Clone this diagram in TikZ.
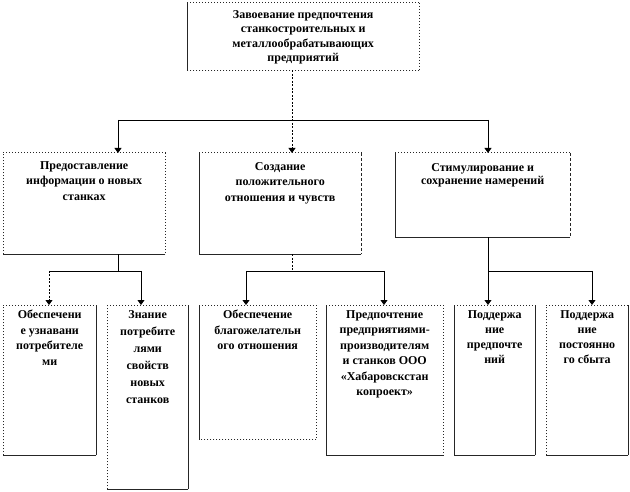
\documentclass[tikz,border=0pt]{standalone}
\usepackage{fontspec}
\setmainfont{Liberation Serif}
\usetikzlibrary{arrows.meta}
\newcommand{\boxtext}[5]{\parbox[c][#2pt][t]{#1pt}{\centering\fontsize{12}{#3}\selectfont\bfseries\vspace*{#4pt}#5\par}}
\newcommand{\boxsides}[5]{%
  \draw[#2] (#1.north west) -- (#1.north east);
  \draw[#3] (#1.north east) -- (#1.south east);
  \draw[#4] (#1.south east) -- (#1.south west);
  \draw[#5] (#1.south west) -- (#1.north west);}
\begin{document}
\begin{tikzpicture}[x=1pt,y=-1pt,
  boxnode/.style={inner sep=0pt,anchor=north west,draw=none},
  sd/.style={line width=1pt,black!85,dotted},
  ss/.style={line width=0.8pt,black!85},
  sdash/.style={line width=0.8pt,black!85,dash pattern=on 3pt off 2pt},
  conn/.style={line width=0.8pt,black},
  dashconn/.style={line width=0.8pt,black,dash pattern=on 2pt off 1.5pt},
  arr/.style={-{Triangle[length=5pt,width=7pt]}}]
\useasboundingbox (0,0) rectangle (630,492);
% top
\node[boxnode] (T) at (187,3) {\boxtext{232}{67}{14.2}{7.5}{Завоевание предпочтения\\станкостроительных и\\металлообрабатывающих\\предприятий}};
% level 1
\node[boxnode] (A) at (3,153) {\boxtext{162}{101}{15.5}{8}{Предоставление\\информации о новых\\станках}};
\node[boxnode] (B) at (199,153) {\boxtext{162}{101}{15.5}{9}{Создание\\положительного\\отношения и чувств}};
\node[boxnode] (C) at (395,153) {\boxtext{175}{84}{13}{10}{Стимулирование и\\сохранение намерений}};
% level 2
\node[boxnode] (a1) at (3,305) {\boxtext{93}{150}{15.5}{5}{Обеспечени\\е узнавани\\потребителе\\ми}};
\node[boxnode] (a2) at (107,305) {\boxtext{81}{184}{17}{5}{Знание\\потребите\\лями\\свойств\\новых\\станков}};
\node[boxnode] (b1) at (199,305) {\boxtext{117}{134}{15.5}{5}{Обеспечение\\благожелательн\\ого отношения}};
\node[boxnode] (b2) at (326,305) {\boxtext{117}{150}{15.5}{5}{Предпочтение\\предприятиями-\\производителям\\и станков ООО\\«Хабаровскстан\\копроект»}};
\node[boxnode] (c1) at (454,305) {\boxtext{81}{150}{15}{5}{Поддержа\\ние\\предпочте\\ний}};
\node[boxnode] (c2) at (546,305) {\boxtext{82}{150}{15}{5}{Поддержа\\ние\\постоянно\\го сбыта}};
% borders
\boxsides{T}{sd}{sd}{sd}{ss}
\boxsides{A}{sd}{sd}{ss}{sd}
\boxsides{B}{sd}{sdash}{ss}{ss}
\boxsides{C}{sd}{sdash}{ss}{ss}
\boxsides{a1}{sd}{ss}{ss}{sd}
\boxsides{a2}{sd}{ss}{ss}{sd}
\boxsides{b1}{sd}{sd}{sd}{ss}
\boxsides{b2}{sd}{sd}{ss}{ss}
\boxsides{c1}{sd}{ss}{ss}{ss}
\boxsides{c2}{sd}{ss}{ss}{sd}
% coordinates
\coordinate (xB) at (292,0);
\coordinate (hA) at (118,120);
\coordinate (hC) at (488,120);
\coordinate (jA) at (118,271);
\coordinate (la) at (49,271);
\coordinate (ra) at (141,271);
\coordinate (jB) at (292,271);
\coordinate (lb) at (246,271);
\coordinate (rb) at (384,271);
\coordinate (jC) at (488,271);
\coordinate (rc) at (592,271);
% level 1 connectors
\draw[conn] (hA) -- (hC);
\draw[conn,arr] (hA) -- (A.north -| hA);
\draw[conn,arr] (hC) -- (C.north -| hC);
\draw[dashconn,arr] (T.south -| xB) -- (B.north -| xB);
% A group
\draw[conn] (A.south -| jA) -- (jA);
\draw[conn] (la) -- (ra);
\draw[dashconn,arr] (la) -- (a1.north -| la);
\draw[conn,arr] (ra) -- (a2.north -| ra);
% B group
\draw[dashconn] (B.south -| jB) -- (jB);
\draw[conn] (lb) -- (rb);
\draw[conn,arr] (lb) -- (b1.north -| lb);
\draw[conn,arr] (rb) -- (b2.north -| rb);
% C group
\draw[conn,arr] (C.south -| jC) -- (c1.north -| jC);
\draw[conn] (jC) -- (rc);
\draw[conn,arr] (rc) -- (c2.north -| rc);
\end{tikzpicture}
\end{document}
